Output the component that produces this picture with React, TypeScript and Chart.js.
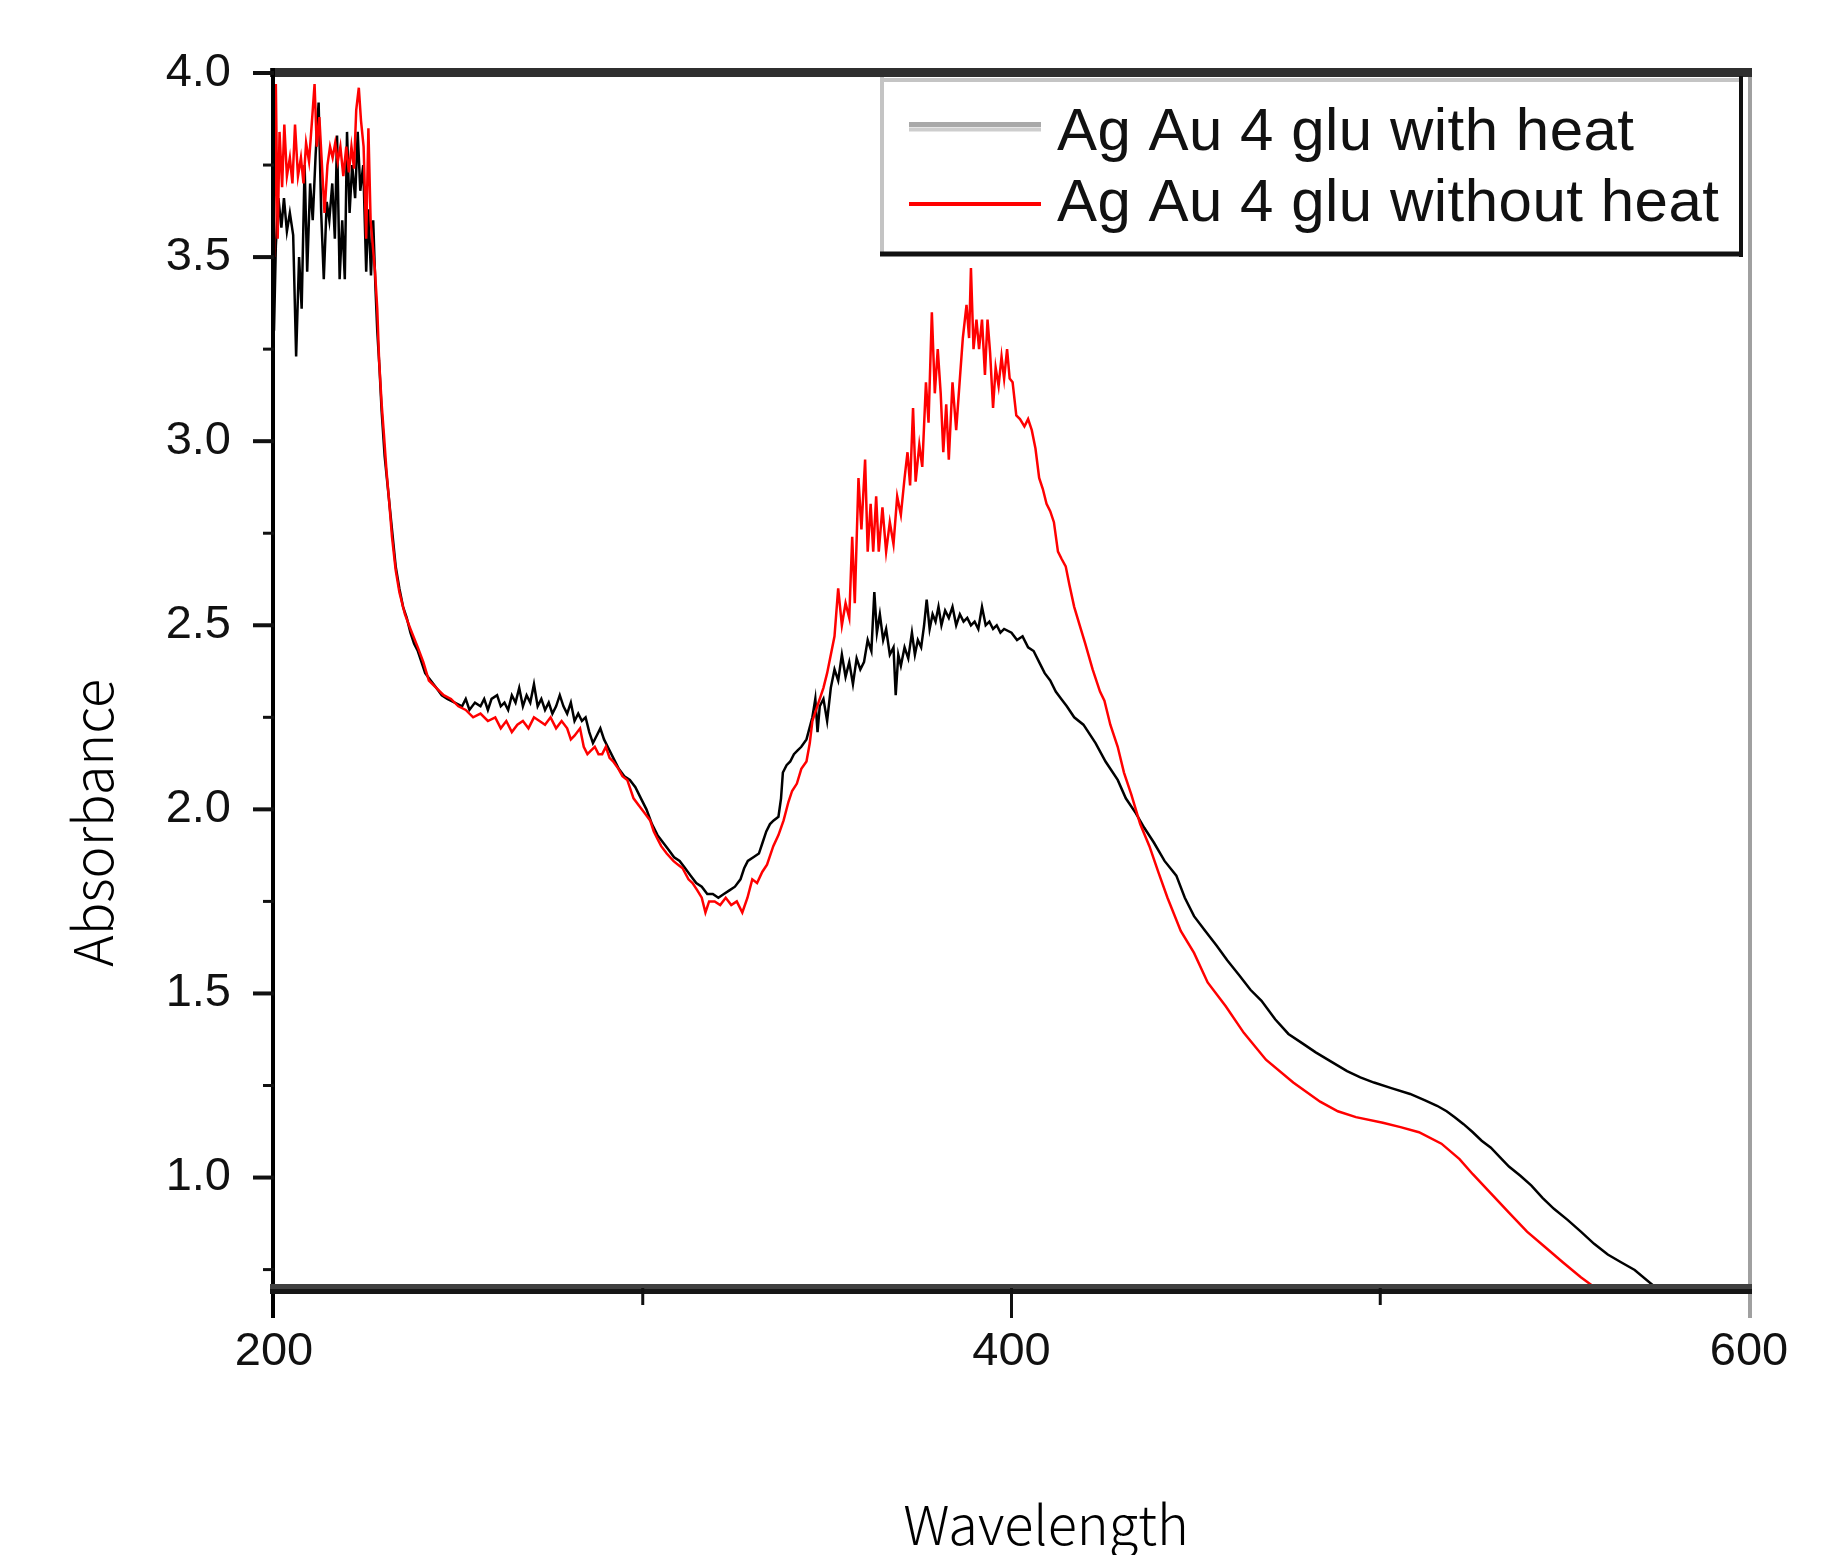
import React, { useEffect, useRef } from "react";
import { Chart, registerables } from "chart.js";

Chart.register(...registerables);

// ---- data ----
const seriesLabels = ["Ag Au 4 glu with heat", "Ag Au 4 glu without heat"];
const xTitle = "Wavelength";
const yTitle = "Absorbance";

const xTickValues = [200, 400, 600];
const xMinorTickValues = [300, 500];
const yTickValues = [1.0, 1.5, 2.0, 2.5, 3.0, 3.5, 4.0];
const yMinorTickValues = [0.75, 1.25, 1.75, 2.25, 2.75, 3.25, 3.75];

const heatWavelength = [
  200, 200.5, 201.2, 202, 202.7, 203.5, 204.3, 205.2, 206, 206.8, 207.5, 208.3, 209, 209.8, 210.5, 211.3, 212.1, 212.8, 213.5, 214.3,
  215, 215.8, 216.5, 217.1, 217.8, 218.5, 219.2, 219.8, 220.5, 221.2, 222, 222.7, 223.4, 224.2, 225, 225.6, 226.3, 226.9, 227.5, 228,
  228.6, 229.2, 230, 231, 232, 233, 234, 235, 236, 237, 238, 239, 240, 241, 242.5, 244, 245.5, 247, 249, 251,
  252, 253, 254.5, 256, 257, 258, 259, 260.5, 261.5, 262.5, 263.5, 264.5, 265.5, 266.5, 267.5, 268.5, 269.5, 270.5, 271.5, 272.5,
  273.5, 274.5, 275.5, 276.5, 277.5, 278.5, 279.5, 280.5, 281.5, 282.5, 283.5, 284.5, 285.5, 286.5, 287.5, 288.5, 289.5, 290.5, 292, 293.5,
  295, 296.5, 298, 299.5, 301, 302.5, 304, 305.5, 307, 308.5, 310, 311.5, 313, 314.5, 316, 317.5, 319, 320.5, 322, 323.5,
  325, 326.5, 327.5, 328.5, 330, 331.5, 332.5, 333.5, 334.5, 335.5, 336.8, 337.5, 338, 339, 340, 341, 342, 343, 344.4, 345.2,
  346, 346.8, 347.4, 348, 349, 350, 351, 352, 353, 354, 355, 356, 357, 358, 359, 360, 361, 362, 362.8, 363.5,
  364.3, 365.2, 366, 367, 368, 368.6, 369.3, 370, 371, 372, 373, 373.8, 374.6, 375.5, 376.3, 377, 377.8, 378.6, 379.4, 380.2,
  381, 382, 383, 384, 385, 386, 387, 388, 389, 390, 391, 392, 393, 394, 395, 396, 397, 398, 400, 401.5,
  403, 404.5, 406, 407.5, 409, 410.5, 412, 413.5, 415, 417, 419.5, 422.8, 425.5, 428.8, 431, 433.7, 436, 438.6, 441.5, 444.7,
  447, 449.5, 452.5, 455.6, 458.5, 461.7, 464.8, 467.8, 471.5, 475.1, 478.8, 482.5, 486.8, 491, 494.6, 498.3, 503, 508.1, 512, 515.4,
  518, 520.2, 522.6, 525.1, 527.5, 530, 532.5, 534.9, 538, 541, 544, 547.1, 550.8, 554.4, 558, 561.7, 565.3, 569, 574.5, 580,
  590, 600,
];
const heatAbsorbance = [
  3.30, 3.53, 3.66, 3.58, 3.66, 3.57, 3.62, 3.56, 3.23, 3.50, 3.36, 3.75, 3.46, 3.70, 3.60, 3.78, 3.92, 3.62, 3.44, 3.65,
  3.60, 3.70, 3.55, 3.83, 3.44, 3.60, 3.44, 3.84, 3.62, 3.75, 3.66, 3.84, 3.68, 3.75, 3.46, 3.63, 3.45, 3.60, 3.42, 3.30,
  3.20, 3.08, 2.96, 2.86, 2.76, 2.66, 2.60, 2.55, 2.52, 2.48, 2.45, 2.43, 2.40, 2.37, 2.35, 2.33, 2.31, 2.30, 2.29, 2.28,
  2.30, 2.27, 2.29, 2.28, 2.30, 2.27, 2.30, 2.31, 2.28, 2.29, 2.27, 2.31, 2.29, 2.33, 2.28, 2.31, 2.29, 2.34, 2.28, 2.30,
  2.27, 2.29, 2.26, 2.28, 2.31, 2.28, 2.26, 2.29, 2.24, 2.26, 2.24, 2.25, 2.21, 2.18, 2.20, 2.22, 2.19, 2.17, 2.14, 2.11,
  2.09, 2.08, 2.06, 2.03, 2.00, 1.96, 1.93, 1.91, 1.89, 1.87, 1.86, 1.84, 1.82, 1.80, 1.79, 1.77, 1.77, 1.76, 1.77, 1.78,
  1.79, 1.81, 1.84, 1.86, 1.87, 1.88, 1.91, 1.94, 1.96, 1.97, 1.98, 2.03, 2.10, 2.12, 2.13, 2.15, 2.16, 2.17, 2.19, 2.22,
  2.25, 2.30, 2.21, 2.28, 2.30, 2.24, 2.33, 2.38, 2.35, 2.42, 2.36, 2.40, 2.34, 2.41, 2.38, 2.40, 2.46, 2.43, 2.59, 2.48,
  2.53, 2.46, 2.49, 2.42, 2.44, 2.31, 2.42, 2.39, 2.44, 2.41, 2.48, 2.42, 2.46, 2.44, 2.50, 2.57, 2.49, 2.53, 2.51, 2.55,
  2.50, 2.54, 2.52, 2.55, 2.50, 2.53, 2.51, 2.52, 2.50, 2.51, 2.49, 2.55, 2.50, 2.51, 2.49, 2.50, 2.48, 2.49, 2.48, 2.46,
  2.47, 2.44, 2.43, 2.40, 2.37, 2.35, 2.32, 2.30, 2.28, 2.25, 2.23, 2.18, 2.13, 2.08, 2.03, 1.99, 1.95, 1.91, 1.86, 1.82,
  1.76, 1.71, 1.67, 1.63, 1.59, 1.55, 1.51, 1.48, 1.43, 1.39, 1.365, 1.34, 1.314, 1.289, 1.272, 1.258, 1.243, 1.227, 1.21, 1.195,
  1.18, 1.164, 1.145, 1.123, 1.10, 1.081, 1.055, 1.03, 1.005, 0.978, 0.945, 0.915, 0.885, 0.853, 0.82, 0.791, 0.77, 0.749, 0.703, 0.67,
  0.62, 0.57,
];

const noHeatWavelength = [
  200, 200.5, 201, 201.5, 202.2, 202.8, 203.5, 204.3, 205, 205.7, 206.5, 207.3, 208, 208.7, 209.5, 210.3, 211, 211.6, 212.3, 213,
  213.7, 214.5, 215.2, 215.9, 216.6, 217.3, 218, 218.8, 219.6, 220.3, 221, 221.7, 222.3, 223, 223.6, 224.3, 225, 225.6, 226.2, 226.8,
  227.4, 228, 228.5, 229.2, 229.8, 230.5, 231.2, 232, 233, 234, 235.5, 237, 239, 240.5, 242, 244, 246, 248, 250, 252,
  254, 256, 258, 260, 261.5, 263, 264.5, 266, 267.5, 269, 270.5, 272, 273.5, 275, 276.5, 278, 279.5, 280.5, 281.5, 283,
  284, 285, 286, 287, 288, 289, 290, 291, 292, 293.4, 294.5, 295.8, 297.5, 299, 300.5, 302, 303, 304, 305, 306.5,
  308.3, 309.5, 310.8, 312.4, 313.5, 314.8, 316, 317, 318, 319.5, 321, 322.5, 324, 325.5, 327, 328.4, 329.7, 331, 332.4, 333.7,
  335.4, 336.8, 338.2, 339.5, 340.5, 341.8, 343, 344.4, 345.3, 346, 347, 348, 349, 350, 351, 352, 353, 354, 355, 356,
  356.8, 357.5, 358.5, 359.3, 360.3, 361, 361.8, 362.5, 363.3, 364, 365, 366, 367, 368, 369, 370, 371, 371.8, 372.5, 373.3,
  374, 375, 375.8, 376.8, 377.5, 378.4, 379.2, 380, 380.8, 381.5, 382.3, 383, 384, 385, 386, 386.8, 387.8, 388.5, 389, 389.7,
  390.5, 391.2, 392, 392.8, 393.5, 394.2, 395, 395.7, 396.5, 397.3, 398, 398.8, 399.5, 400.3, 401.3, 402.3, 403.5, 404.5, 405.5, 406.5,
  407.5, 408.5, 409.5, 410.5, 411.5, 412.6, 413.6, 414.7, 415.7, 417, 418.5, 420, 422, 424, 425.2, 426.8, 428.8, 430.5, 432.5, 434.9,
  437.4, 439.8, 442.3, 445.9, 449.5, 453.2, 458.1, 463, 469, 476.4, 483.7, 488.5, 493.4, 500.7, 505.5, 510.5, 516.6, 521.5, 525.1, 530,
  534.9, 539.8, 544.6, 549.5, 554.4, 558, 565, 575, 590, 600,
];
const noHeatAbsorbance = [
  3.50, 3.97, 3.55, 3.84, 3.69, 3.86, 3.72, 3.77, 3.70, 3.86, 3.72, 3.77, 3.70, 3.81, 3.76, 3.87, 3.97, 3.80, 3.88, 3.75,
  3.62, 3.75, 3.80, 3.77, 3.81, 3.76, 3.80, 3.72, 3.80, 3.73, 3.80, 3.74, 3.90, 3.96, 3.87, 3.80, 3.55, 3.85, 3.60, 3.53,
  3.46, 3.36, 3.22, 3.10, 3.02, 2.92, 2.84, 2.74, 2.65, 2.59, 2.53, 2.49, 2.44, 2.40, 2.35, 2.33, 2.31, 2.30, 2.28, 2.27,
  2.25, 2.26, 2.24, 2.25, 2.22, 2.24, 2.21, 2.23, 2.24, 2.22, 2.25, 2.24, 2.23, 2.25, 2.22, 2.24, 2.22, 2.19, 2.20, 2.22,
  2.17, 2.15, 2.16, 2.17, 2.15, 2.15, 2.17, 2.14, 2.13, 2.11, 2.09, 2.08, 2.03, 2.01, 1.99, 1.97, 1.94, 1.92, 1.90, 1.88,
  1.86, 1.85, 1.84, 1.81, 1.80, 1.78, 1.76, 1.72, 1.75, 1.75, 1.74, 1.76, 1.74, 1.75, 1.72, 1.76, 1.81, 1.80, 1.83, 1.85,
  1.90, 1.93, 1.97, 2.02, 2.05, 2.07, 2.11, 2.13, 2.18, 2.24, 2.27, 2.30, 2.33, 2.37, 2.42, 2.47, 2.60, 2.50, 2.56, 2.52,
  2.74, 2.56, 2.90, 2.76, 2.95, 2.70, 2.83, 2.70, 2.85, 2.70, 2.82, 2.70, 2.78, 2.72, 2.85, 2.80, 2.90, 2.97, 2.88, 3.09,
  2.89, 2.99, 2.93, 3.16, 3.05, 3.35, 3.13, 3.25, 3.13, 2.97, 3.10, 2.95, 3.16, 3.03, 3.17, 3.28, 3.37, 3.28, 3.47, 3.25,
  3.33, 3.25, 3.33, 3.18, 3.33, 3.24, 3.09, 3.20, 3.15, 3.23, 3.17, 3.25, 3.17, 3.16, 3.07, 3.06, 3.04, 3.06, 3.03, 2.98,
  2.90, 2.87, 2.83, 2.81, 2.78, 2.70, 2.68, 2.66, 2.61, 2.55, 2.50, 2.45, 2.38, 2.32, 2.295, 2.23, 2.17, 2.10, 2.04, 1.96,
  1.90, 1.83, 1.76, 1.67, 1.61, 1.53, 1.465, 1.393, 1.32, 1.258, 1.206, 1.18, 1.164, 1.149, 1.137, 1.123, 1.092, 1.05, 1.009, 0.957,
  0.905, 0.853, 0.812, 0.77, 0.729, 0.703, 0.66, 0.60, 0.52, 0.46,
];

const heatColor = "#000000";
const noHeatColor = "#ff0000";
const tickFont = "'Liberation Sans', Arial, sans-serif";
const titleFont = "'Noto Sans CJK JP', 'Noto Sans', sans-serif";

const toPoints = (xs: number[], ys: number[]) => xs.map((x, i) => ({ x, y: ys[i] }));

const framePlugin = {
  id: "frame",
  afterDatasetsDraw(chart: any) {
    const { ctx, chartArea } = chart;
    const { left, right, top, bottom } = chartArea;
    const xs = chart.scales.x;
    const ys = chart.scales.y;
    const line = (x1: number, y1: number, x2: number, y2: number, color: string, w: number) => {
      ctx.beginPath();
      ctx.strokeStyle = color;
      ctx.lineWidth = w;
      ctx.moveTo(x1, y1);
      ctx.lineTo(x2, y2);
      ctx.stroke();
    };
    ctx.save();
    ctx.lineCap = "butt";
    // right axis (gray)
    line(right + 1, top - 5, right + 1, bottom + 30, "#a0a0a0", 4);
    // top band
    line(left - 4, top - 0.5, right + 3, top - 0.5, "#2f2f2f", 9);
    // left axis
    line(left - 1, top - 5, left - 1, bottom + 30, "#000000", 4);
    // bottom band (two tone)
    line(left - 4, bottom - 1.5, right + 3, bottom - 1.5, "#404040", 5);
    line(left - 4, bottom + 3.5, right + 3, bottom + 3.5, "#161616", 5);
    // y ticks
    yTickValues.forEach((v) => {
      const y = ys.getPixelForValue(v);
      line(left - 21, y, left, y, "#111111", 4);
    });
    yMinorTickValues.forEach((v) => {
      const y = ys.getPixelForValue(v);
      line(left - 11, y, left, y, "#111111", 3);
    });
    // x ticks
    xTickValues.forEach((v) => {
      if (v <= xs.min || v >= xs.max) return;
      const x = xs.getPixelForValue(v);
      line(x, bottom, x, bottom + 30, "#111111", 3);
    });
    xMinorTickValues.forEach((v) => {
      const x = xs.getPixelForValue(v);
      line(x, bottom, x, bottom + 17, "#111111", 3);
    });
    ctx.restore();
  },
  afterDraw(chart: any) {
    const { ctx } = chart;
    ctx.save();
    // legend box
    const bx1 = 880, bx2 = 1741, by1 = 79, by2 = 254;
    ctx.fillStyle = "#ffffff";
    ctx.fillRect(bx1, by1, bx2 - bx1, by2 - by1);
    const line = (x1: number, y1: number, x2: number, y2: number, color: string, w: number) => {
      ctx.beginPath();
      ctx.strokeStyle = color;
      ctx.lineWidth = w;
      ctx.moveTo(x1, y1);
      ctx.lineTo(x2, y2);
      ctx.stroke();
    };
    line(bx1 + 2, by1 - 2, bx1 + 2, by2 + 2, "#c4c4c4", 4);
    line(bx1, by1 + 1, bx2, by1 + 1, "#c4c4c4", 4);
    line(bx2, 76, bx2, by2 + 3, "#111111", 4);
    line(bx1, by2, bx2 + 2, by2, "#111111", 5);
    // legend samples
    line(909, 124.5, 1041, 124.5, "#a9a9a9", 5);
    line(909, 129.5, 1041, 129.5, "#cdcdcd", 4);
    line(909, 204, 1041, 204, noHeatColor, 4);
    ctx.fillStyle = "#111111";
    ctx.font = `60px ${tickFont}`;
    (ctx as any).letterSpacing = "0.5px";
    ctx.textAlign = "left";
    ctx.textBaseline = "alphabetic";
    ctx.fillText(seriesLabels[0], 1057, 150);
    ctx.fillText(seriesLabels[1], 1057, 221);
    (ctx as any).letterSpacing = "0px";

    // axis titles
    ctx.fillStyle = "#000000";
    ctx.font = `300 54px ${titleFont}`;
    ctx.textAlign = "center";
    ctx.fillText(xTitle, 1046, 1545);
    ctx.translate(113, 823);
    ctx.rotate(-Math.PI / 2);
    ctx.fillText(yTitle, 0, 0);
    ctx.restore();
  },
};

export default function App() {
  const canvasRef = useRef<HTMLCanvasElement | null>(null);

  useEffect(() => {
    document.body.style.margin = "0";
    const canvas = canvasRef.current;
    if (!canvas) return;
    const chart = new Chart(canvas, {
      type: "line",
      data: {
        datasets: [
          {
            label: seriesLabels[1],
            data: toPoints(noHeatWavelength, noHeatAbsorbance),
            borderColor: noHeatColor,
            backgroundColor: noHeatColor,
            borderWidth: 2.5,
            pointRadius: 0,
            tension: 0,
            order: 1,
          },
          {
            label: seriesLabels[0],
            data: toPoints(heatWavelength, heatAbsorbance),
            borderColor: heatColor,
            backgroundColor: heatColor,
            borderWidth: 2.5,
            pointRadius: 0,
            tension: 0,
            order: 2,
          },
        ],
      },
      options: {
        responsive: false,
        animation: false,
        devicePixelRatio: 1,
        layout: { padding: { top: 73, right: 92, left: 0, bottom: 0 } },
        plugins: { legend: { display: false }, tooltip: { enabled: false } },
        scales: {
          x: {
            type: "linear",
            min: 200,
            max: 600,
            afterFit: (s: any) => {
              s.height = 267;
            },
            afterBuildTicks: (s: any) => {
              s.ticks = xTickValues.map((v) => ({ value: v }));
            },
            grid: { display: false, drawTicks: false },
            border: { display: false },
            ticks: {
              padding: 36,
              color: "#111111",
              maxRotation: 0,
              autoSkip: false,
              font: { family: tickFont, size: 47 },
              callback: (v: any) => String(v),
            },
          },
          y: {
            type: "linear",
            min: 0.7,
            max: 4.0,
            afterFit: (s: any) => {
              s.width = 274;
            },
            afterBuildTicks: (s: any) => {
              s.ticks = yTickValues.map((v) => ({ value: v }));
            },
            grid: { display: false, drawTicks: false },
            border: { display: false },
            ticks: {
              padding: 43,
              color: "#111111",
              autoSkip: false,
              font: { family: tickFont, size: 47 },
              callback: (v: any) => Number(v).toFixed(1),
            },
          },
        },
      },
      plugins: [framePlugin],
    });
    return () => chart.destroy();
  }, []);

  return <canvas ref={canvasRef} width={1841} height={1555} style={{ display: "block" }} />;
}
